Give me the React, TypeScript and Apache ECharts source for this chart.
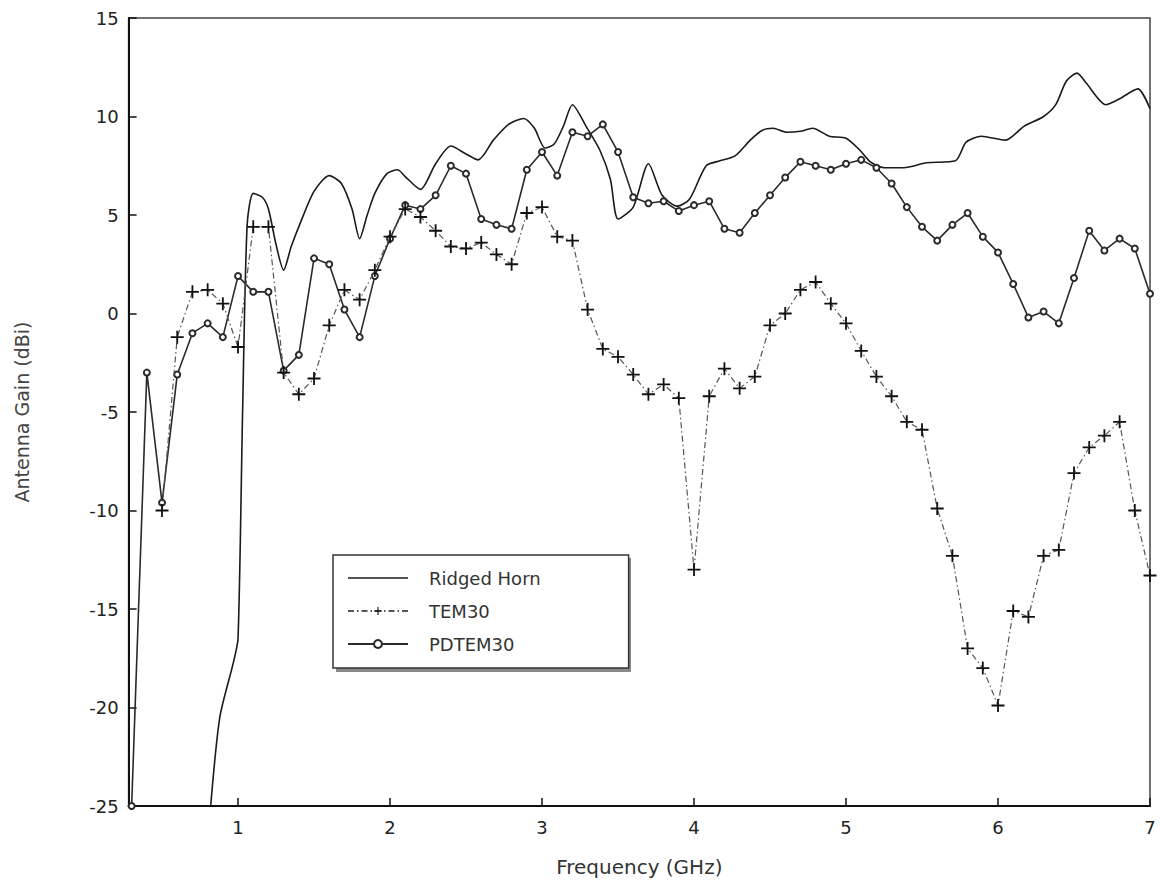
import React, { useEffect, useRef } from "react";
import * as echarts from "echarts";

// Frequency (GHz) and gain (dBi)
const hornFreq = [0.82, 0.88, 0.97, 1.0, 1.03, 1.06, 1.1, 1.16, 1.2, 1.25, 1.3, 1.35, 1.41, 1.5, 1.6, 1.68, 1.75, 1.8, 1.85, 1.9, 1.98, 2.05, 2.1, 2.2, 2.3, 2.4, 2.5, 2.58, 2.68, 2.78, 2.88, 2.95, 3.02, 3.08, 3.14, 3.2, 3.29, 3.38, 3.45, 3.5, 3.6, 3.7, 3.79, 3.89, 3.97, 4.08, 4.17, 4.27, 4.37, 4.45, 4.52, 4.61, 4.7, 4.78, 4.89, 5.0, 5.09, 5.16, 5.25, 5.38, 5.53, 5.72, 5.79, 5.89, 6.05, 6.17, 6.3, 6.38, 6.45, 6.52, 6.58, 6.71, 6.8, 6.92, 7.0];
const hornGain = [-25, -20.5, -17.7, -16.5, -5, 4.5, 6.1, 5.9, 5.3, 3.5, 2.2, 3.4, 4.6, 6.2, 7.0, 6.6, 5.3, 3.8, 5.0, 6.1, 7.1, 7.3, 6.95, 6.3, 7.6, 8.5, 8.1, 7.8, 8.8, 9.6, 9.9, 9.4, 8.4, 8.6, 9.5, 10.6, 9.5, 8.3, 6.8, 4.8, 5.4, 7.6, 6.0, 5.45, 5.8, 7.5, 7.75, 8.0, 8.8, 9.3, 9.4, 9.2, 9.25, 9.4, 9.0, 8.9, 8.3, 7.7, 7.4, 7.4, 7.65, 7.75, 8.7, 9.0, 8.8, 9.5, 10.0, 10.6, 11.8, 12.2, 11.7, 10.6, 10.9, 11.4, 10.4];

const temFreq = [0.5, 0.6, 0.7, 0.8, 0.9, 1.0, 1.1, 1.2, 1.3, 1.4, 1.5, 1.6, 1.7, 1.8, 1.9, 2.0, 2.1, 2.2, 2.3, 2.4, 2.5, 2.6, 2.7, 2.8, 2.9, 3.0, 3.1, 3.2, 3.3, 3.4, 3.5, 3.6, 3.7, 3.8, 3.9, 4.0, 4.1, 4.2, 4.3, 4.4, 4.5, 4.6, 4.7, 4.8, 4.9, 5.0, 5.1, 5.2, 5.3, 5.4, 5.5, 5.6, 5.7, 5.8, 5.9, 6.0, 6.1, 6.2, 6.3, 6.4, 6.5, 6.6, 6.7, 6.8, 6.9, 7.0];
const temGain = [-10.0, -1.2, 1.1, 1.2, 0.5, -1.7, 4.4, 4.4, -3.0, -4.1, -3.3, -0.6, 1.2, 0.7, 2.2, 3.9, 5.3, 4.9, 4.2, 3.4, 3.3, 3.6, 3.0, 2.5, 5.1, 5.4, 3.9, 3.7, 0.2, -1.8, -2.2, -3.1, -4.1, -3.6, -4.3, -13.0, -4.2, -2.8, -3.8, -3.2, -0.6, 0.0, 1.2, 1.6, 0.5, -0.5, -1.9, -3.2, -4.2, -5.5, -5.9, -9.9, -12.3, -17.0, -18.0, -19.9, -15.1, -15.4, -12.3, -12.0, -8.1, -6.8, -6.2, -5.5, -10.0, -13.3];

const pdFreq = [0.3, 0.4, 0.5, 0.6, 0.7, 0.8, 0.9, 1.0, 1.1, 1.2, 1.3, 1.4, 1.5, 1.6, 1.7, 1.8, 1.9, 2.0, 2.1, 2.2, 2.3, 2.4, 2.5, 2.6, 2.7, 2.8, 2.9, 3.0, 3.1, 3.2, 3.3, 3.4, 3.5, 3.6, 3.7, 3.8, 3.9, 4.0, 4.1, 4.2, 4.3, 4.4, 4.5, 4.6, 4.7, 4.8, 4.9, 5.0, 5.1, 5.2, 5.3, 5.4, 5.5, 5.6, 5.7, 5.8, 5.9, 6.0, 6.1, 6.2, 6.3, 6.4, 6.5, 6.6, 6.7, 6.8, 6.9, 7.0];
const pdGain = [-25, -3.0, -9.6, -3.1, -1.0, -0.5, -1.2, 1.9, 1.1, 1.1, -2.9, -2.1, 2.8, 2.5, 0.2, -1.2, 1.9, 3.8, 5.5, 5.3, 6.0, 7.5, 7.1, 4.8, 4.5, 4.3, 7.3, 8.2, 7.0, 9.2, 9.0, 9.6, 8.2, 5.9, 5.6, 5.7, 5.2, 5.5, 5.7, 4.3, 4.1, 5.1, 6.0, 6.9, 7.7, 7.5, 7.3, 7.6, 7.8, 7.4, 6.6, 5.4, 4.4, 3.7, 4.5, 5.1, 3.9, 3.1, 1.5, -0.2, 0.1, -0.5, 1.8, 4.2, 3.2, 3.8, 3.3, 1.0];

const xTicks = [1, 2, 3, 4, 5, 6, 7];
const seriesNames = ["Ridged Horn", "TEM30", "PDTEM30"];

const pair = (xs: number[], ys: number[]) => xs.map((x, i) => [x, ys[i]]);

const FONT = "DejaVu Sans";

export default function App() {
  const ref = useRef<HTMLDivElement>(null);
  useEffect(() => {
    if (!ref.current) return;
    const chart = echarts.init(ref.current, undefined, { renderer: "svg" });
    const option: any = {
      animation: false,
      backgroundColor: "#ffffff",
      grid: {
        left: 128.6,
        right: 10,
        top: 18,
        bottom: 84,
        show: true,
        borderColor: "#444",
        borderWidth: 1.5,
        backgroundColor: "transparent",
      },
      xAxis: {
        type: "value",
        min: 0.28,
        max: 7,
        name: "Frequency (GHz)",
        nameLocation: "middle",
        nameGap: 51,
        nameTextStyle: { fontFamily: FONT, fontSize: 20, color: "#333" },
        axisLine: { show: true, onZero: false, lineStyle: { color: "#111", width: 2 } },
        axisTick: { show: true, inside: true, length: 8, customValues: xTicks, lineStyle: { color: "#111", width: 1.5 } },
        axisLabel: { customValues: xTicks, margin: 12, fontFamily: FONT, fontSize: 18, color: "#222" },
        splitLine: { show: false },
      },
      yAxis: {
        type: "value",
        min: -25,
        max: 15,
        interval: 5,
        name: "Antenna Gain (dBi)",
        nameLocation: "middle",
        nameGap: 97,
        nameTextStyle: { fontFamily: FONT, fontSize: 19, color: "#444" },
        axisLine: { show: true, onZero: false, lineStyle: { color: "#111", width: 2 } },
        axisTick: { show: true, inside: true, length: 8, lineStyle: { color: "#111", width: 1.5 } },
        axisLabel: { margin: 10, fontFamily: FONT, fontSize: 18, color: "#222" },
        splitLine: { show: false },
      },
      legend: {
        orient: "vertical",
        left: 333,
        top: 555,
        data: [
          { name: seriesNames[0], icon: "path://M0,0H60V1.6H0Z" },
          { name: seriesNames[1] },
          { name: seriesNames[2] },
        ],
        itemWidth: 60,
        itemHeight: 10,
        itemGap: 15,
        padding: [14, 88, 15, 14],
        backgroundColor: "#ffffff",
        borderColor: "#333",
        borderWidth: 1.5,
        z: 10,
        textStyle: { fontFamily: FONT, fontSize: 18, color: "#333", padding: [0, 0, 0, 16] },
      },
      graphic: [
        {
          type: "rect",
          z: 1,
          shape: { x: 336, y: 558, width: 295, height: 114 },
          style: { fill: "#8a8a8a" },
        },
      ],
      series: [
        {
          name: seriesNames[0],
          type: "line",
          data: pair(hornFreq, hornGain),
          showSymbol: false,
          symbol: "none",
          smooth: 0.25,
          lineStyle: { color: "#1a1a1a", width: 1.6 },
          itemStyle: { color: "#1a1a1a" },
          z: 3,
        },
        {
          name: seriesNames[1],
          type: "line",
          data: pair(temFreq, temGain),
          symbol: "path://M4.3,0H5.7V4.3H10V5.7H5.7V10H4.3V5.7H0V4.3H4.3Z",
          symbolSize: 13,
          lineStyle: { color: "#555", width: 1.2, type: [6, 3, 1.5, 3] },
          itemStyle: { color: "#111", borderWidth: 0 },
          z: 4,
        },
        {
          name: seriesNames[2],
          type: "line",
          data: pair(pdFreq, pdGain),
          symbol: "emptyCircle",
          symbolSize: 6,
          lineStyle: { color: "#2a2a2a", width: 1.6 },
          itemStyle: { color: "#2a2a2a", borderWidth: 1.2 },
          z: 3,
        },
      ],
    };
    chart.setOption(option);
    return () => chart.dispose();
  }, []);
  return (
    <div
      ref={ref}
      style={{ position: "absolute", left: 0, top: 0, width: 1160, height: 890 }}
    />
  );
}
